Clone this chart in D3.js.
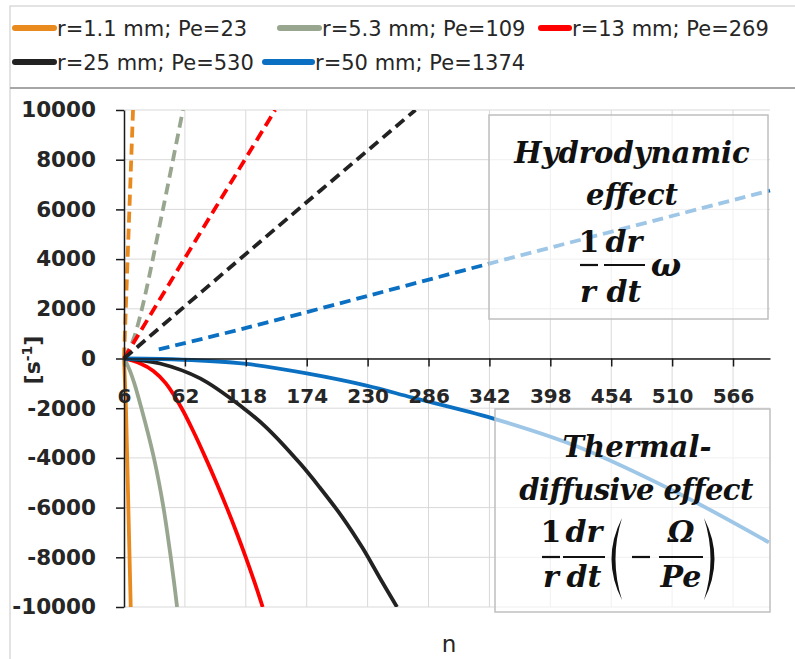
<!DOCTYPE html>
<html>
<head>
<meta charset="utf-8">
<script src="https://cdn.jsdelivr.net/npm/d3@7"></script>
<style>
  html, body { margin: 0; padding: 0; background: #ffffff; }
  svg { display: block; }
</style>
</head>
<body>
<script>
// ---------------- DATA ----------------
const seriesLabels = ["r=1.1 mm; Pe=23", "r=5.3 mm; Pe=109", "r=13 mm; Pe=269", "r=25 mm; Pe=530", "r=50 mm; Pe=1374"];
const xTicks = [6, 62, 118, 174, 230, 286, 342, 398, 454, 510, 566];
const yTicks = [-10000, -8000, -6000, -4000, -2000, 0, 2000, 4000, 6000, 8000, 10000];
const xDomain = [6, 600];
const yDomain = [-10000, 10000];

// Hydrodynamic effect (dashed), [n, value]
const hydroR1  = [[6, 0], [9.3, 4000], [14.3, 10000]];
const hydroR5  = [[6, 0], [14, 700], [22.5, 2000], [41.8, 6000], [60.2, 10000]];
const hydroR13 = [[6, 0], [60, 3900], [145, 10000]];
const hydroR25 = [[6, 0], [124, 4430], [274, 10000]];
const hydroR50 = [[38, 365], [120, 1250], [342, 3820], [600, 6760]];

// Thermal-diffusive effect (solid), [n, value]
const thermR1  = [[6, 0], [7.8, -2000], [10, -6000], [12.2, -10000]];
const thermR5  = [[6, 0], [8.5, -200], [11.5, -500], [15.5, -1000], [22, -2000], [28, -3000], [33.5, -4000], [38.2, -5000], [42.3, -6000], [45.8, -7000], [49, -8000], [52, -9000], [54.8, -10000]];
const thermR13 = [[6, 0], [21, -200], [33, -500], [44.5, -1000], [59, -2000], [70.5, -3000], [81, -4000], [91, -5000], [100.5, -6000], [109.5, -7000], [118, -8000], [126, -9000], [133.5, -10000]];
const thermR25 = [[6, 0], [39, -200], [76, -800], [115, -1970], [137, -2780], [168, -4230], [186, -5190], [207, -6400], [225, -7600], [241, -8810], [257, -10000]];
const thermR50 = [[6, 0], [40, -20], [76, -80], [119, -220], [174, -600], [229, -1090], [271, -1570], [345, -2410], [425, -3580], [516, -5430], [599, -7400]];

const hydroSeries = [hydroR1, hydroR5, hydroR13, hydroR25, hydroR50];
const thermSeries = [thermR1, thermR5, thermR13, thermR25, thermR50];

// ---------------- STYLE ----------------
const colors = ["#E98A1F", "#98A690", "#FF0000", "#222222", "#0B70C2"];
const W = 795, H = 659;
const plot = { left: 124, right: 770, top: 110, bottom: 607 };
const sans = "'DejaVu Sans', 'Liberation Sans', sans-serif";
const serif = "'DejaVu Serif', 'Liberation Serif', serif";
const textCol = "#262626";

const svg = d3.select("body").append("svg").attr("width", W).attr("height", H);

// outer frame
svg.append("rect").attr("x", 10).attr("y", 6).attr("width", W).attr("height", H)
  .attr("fill", "none").attr("stroke", "#c8c8c8").attr("stroke-width", 1);
svg.append("line").attr("x1", 10).attr("x2", W).attr("y1", 88).attr("y2", 88)
  .attr("stroke", "#a6a6a6").attr("stroke-width", 2);

// legend
const legendPos = [
  { x: 15, y: 28 }, { x: 280, y: 28 }, { x: 541, y: 28 },
  { x: 15, y: 62 }, { x: 265, y: 62 }
];
const legendLineLen = [39, 39, 28, 39, 47];
const lg = svg.append("g");
seriesLabels.forEach((lab, i) => {
  const p = legendPos[i];
  lg.append("line").attr("x1", p.x).attr("x2", p.x + legendLineLen[i])
    .attr("y1", p.y).attr("y2", p.y)
    .attr("stroke", colors[i]).attr("stroke-width", 6).attr("stroke-linecap", "round");
  lg.append("text").attr("x", p.x + legendLineLen[i] + 3).attr("y", p.y)
    .attr("dy", "0.36em").attr("font-family", sans).attr("font-size", 21)
    .attr("fill", textCol).text(lab);
});

// scales
const x = d3.scaleLinear().domain(xDomain).range([plot.left, plot.right]);
const y = d3.scaleLinear().domain(yDomain).range([plot.bottom, plot.top]);

// gridlines
const grid = svg.append("g").attr("stroke", "#d9d9d9").attr("stroke-width", 1);
grid.selectAll(".gx").data(xTicks.filter(d => d !== xDomain[0])).join("line")
  .attr("x1", d => x(d)).attr("x2", d => x(d)).attr("y1", plot.top).attr("y2", plot.bottom);
grid.selectAll(".gy").data(yTicks).join("line")
  .attr("x1", plot.left).attr("x2", plot.right).attr("y1", d => y(d)).attr("y2", d => y(d));

// clip
svg.append("clipPath").attr("id", "clip").append("rect")
  .attr("x", plot.left - 3).attr("y", plot.top).attr("width", plot.right - plot.left + 6)
  .attr("height", plot.bottom - plot.top);

const line = d3.line().x(d => x(d[0])).y(d => y(d[1])).curve(d3.curveCatmullRom.alpha(0.5));

const lines = svg.append("g").attr("clip-path", "url(#clip)");
thermSeries.forEach((s, i) => {
  lines.append("path").datum(s).attr("d", line)
    .attr("fill", "none").attr("stroke", colors[i]).attr("stroke-width", 3.8);
});
hydroSeries.forEach((s, i) => {
  lines.append("path").datum(s).attr("d", line)
    .attr("fill", "none").attr("stroke", colors[i]).attr("stroke-width", 3.8)
    .attr("stroke-dasharray", "11,6");
});

// axes
const yAxis = d3.axisLeft(y).tickValues(yTicks).tickSize(8).tickSizeOuter(0)
  .tickPadding(20).tickFormat(d => String(d));
const gy = svg.append("g").attr("transform", `translate(${plot.left},0)`).call(yAxis);
gy.selectAll("text").attr("font-family", sans).attr("font-size", 21.5)
  .attr("font-weight", "bold").attr("fill", textCol);
gy.selectAll("path,line").attr("stroke", "#1a1a1a").attr("stroke-width", 1.5);

const xAxis = d3.axisBottom(x).tickValues(xTicks).tickSize(8).tickSizeOuter(0)
  .tickPadding(22).tickFormat(d => String(d));
const gx = svg.append("g").attr("transform", `translate(0,${y(0)})`).call(xAxis);
gx.selectAll("text").attr("font-family", sans).attr("font-size", 20)
  .attr("font-weight", "bold").attr("fill", textCol);
gx.selectAll("path,line").attr("stroke", "#1a1a1a").attr("stroke-width", 1.5);

// axis titles
const yt = svg.append("text").attr("transform", "translate(40,360) rotate(-90)")
  .attr("text-anchor", "middle").attr("font-family", sans).attr("font-size", 22)
  .attr("font-weight", "bold").attr("fill", textCol);
yt.append("tspan").text("[s");
yt.append("tspan").attr("baseline-shift", "super").attr("font-size", 14).text("-1");
yt.append("tspan").text("]");

svg.append("text").attr("x", 449).attr("y", 652).attr("text-anchor", "middle")
  .attr("font-family", sans).attr("font-size", 23).attr("fill", textCol).text("n");

// ---------------- annotation boxes ----------------
function box(x0, y0, x1, y1) {
  svg.append("rect").attr("x", x0).attr("y", y0).attr("width", x1 - x0).attr("height", y1 - y0)
    .attr("fill", "#ffffff").attr("fill-opacity", 0.6)
    .attr("stroke", "#bfbfbf").attr("stroke-width", 1.5);
}
function t(xp, yp, str, opts = {}) {
  return svg.append("text").attr("x", xp).attr("y", yp).attr("text-anchor", "middle")
    .attr("font-family", serif).attr("font-size", opts.size || 29)
    .attr("font-weight", "bold").attr("font-style", opts.upright ? "normal" : "italic")
    .attr("letter-spacing", opts.ls || 0)
    .attr("fill", "#111").text(str);
}
function bar(x0, x1, yp) {
  svg.append("line").attr("x1", x0).attr("x2", x1).attr("y1", yp).attr("y2", yp)
    .attr("stroke", "#111").attr("stroke-width", 2.2);
}

// Hydrodynamic box
box(489, 115, 768, 319);
t(632, 163, "Hydrodynamic");
t(632, 205, "effect");
t(589, 252, "1", { upright: true, size: 30 });
bar(580, 598, 265);
t(588, 302, "r", { size: 30 });
t(624, 252, "dr", { size: 30 });
bar(604, 645, 265);
t(624, 302, "dt", { size: 30 });
t(666, 276, "ω", { size: 32 });

// Thermal-diffusive box
box(495, 409, 770, 612);
t(637, 457, "Thermal-");
t(636, 500, "diffusive effect", { ls: -0.6 });
t(551, 542, "1", { upright: true, size: 30 });
bar(542, 560, 557);
t(551, 587, "r", { size: 30 });
t(584, 542, "dr", { size: 30 });
bar(563, 605, 557);
t(584, 587, "dt", { size: 30 });
svg.append("path").attr("d", "M622,518 Q601,559 622,600 Q609,559 622,518 Z").attr("fill", "#111");
bar(632, 650, 557);
t(681, 542, "Ω", { size: 30 });
bar(659, 703, 557);
t(681, 587, "Pe", { size: 30 });
svg.append("path").attr("d", "M704,518 Q725,559 704,600 Q717,559 704,518 Z").attr("fill", "#111");
</script>
</body>
</html>
